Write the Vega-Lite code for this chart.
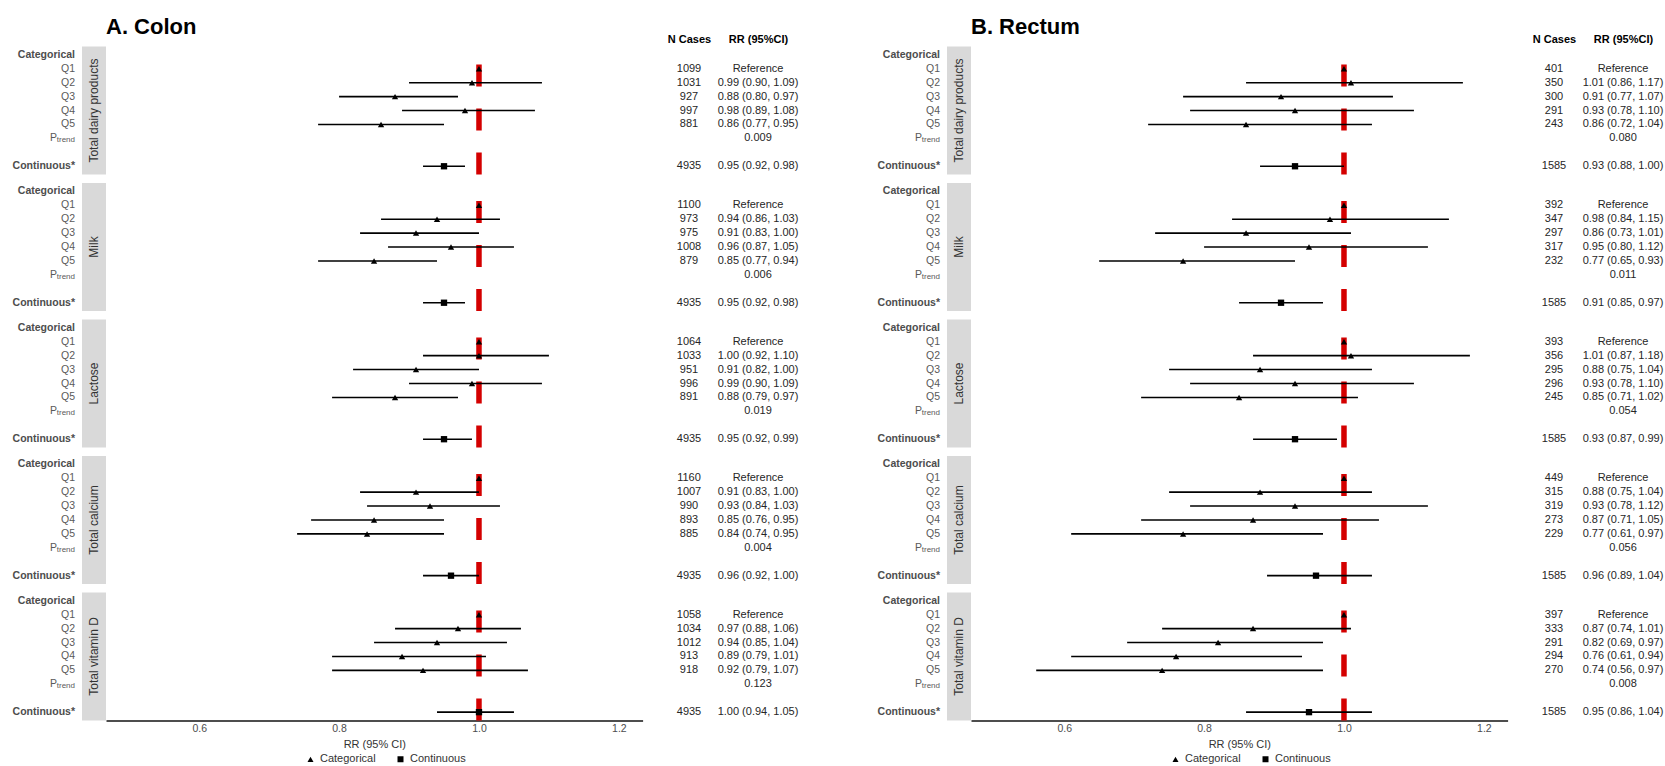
{
  "$schema": "https://vega.github.io/schema/vega-lite/v6.json",
  "padding": {"top": 15.5, "left": 0, "right": 0, "bottom": 0},
  "background": "white",
  "config": {
    "font": "Liberation Sans",
    "view": {"stroke": null},
    "title": {"fontSize": 22, "fontWeight": "bold", "color": "#000000", "anchor": "start", "offset": 4.5}
  },
  "datasets": {
    "rr": [
      {"panel": "Colon", "group": "Total dairy products", "row": "Categorical"},
      {"panel": "Colon", "group": "Total dairy products", "row": "Q1", "n": 1099, "rr": 1.0, "lo": 1.0, "hi": 1.0},
      {"panel": "Colon", "group": "Total dairy products", "row": "Q2", "n": 1031, "rr": 0.99, "lo": 0.90, "hi": 1.09},
      {"panel": "Colon", "group": "Total dairy products", "row": "Q3", "n": 927, "rr": 0.88, "lo": 0.80, "hi": 0.97},
      {"panel": "Colon", "group": "Total dairy products", "row": "Q4", "n": 997, "rr": 0.98, "lo": 0.89, "hi": 1.08},
      {"panel": "Colon", "group": "Total dairy products", "row": "Q5", "n": 881, "rr": 0.86, "lo": 0.77, "hi": 0.95},
      {"panel": "Colon", "group": "Total dairy products", "row": "ptrend", "p": 0.009},
      {"panel": "Colon", "group": "Total dairy products", "row": "Continuous*", "n": 4935, "rr": 0.95, "lo": 0.92, "hi": 0.98},
      {"panel": "Colon", "group": "Milk", "row": "Categorical"},
      {"panel": "Colon", "group": "Milk", "row": "Q1", "n": 1100, "rr": 1.0, "lo": 1.0, "hi": 1.0},
      {"panel": "Colon", "group": "Milk", "row": "Q2", "n": 973, "rr": 0.94, "lo": 0.86, "hi": 1.03},
      {"panel": "Colon", "group": "Milk", "row": "Q3", "n": 975, "rr": 0.91, "lo": 0.83, "hi": 1.00},
      {"panel": "Colon", "group": "Milk", "row": "Q4", "n": 1008, "rr": 0.96, "lo": 0.87, "hi": 1.05},
      {"panel": "Colon", "group": "Milk", "row": "Q5", "n": 879, "rr": 0.85, "lo": 0.77, "hi": 0.94},
      {"panel": "Colon", "group": "Milk", "row": "ptrend", "p": 0.006},
      {"panel": "Colon", "group": "Milk", "row": "Continuous*", "n": 4935, "rr": 0.95, "lo": 0.92, "hi": 0.98},
      {"panel": "Colon", "group": "Lactose", "row": "Categorical"},
      {"panel": "Colon", "group": "Lactose", "row": "Q1", "n": 1064, "rr": 1.0, "lo": 1.0, "hi": 1.0},
      {"panel": "Colon", "group": "Lactose", "row": "Q2", "n": 1033, "rr": 1.00, "lo": 0.92, "hi": 1.10},
      {"panel": "Colon", "group": "Lactose", "row": "Q3", "n": 951, "rr": 0.91, "lo": 0.82, "hi": 1.00},
      {"panel": "Colon", "group": "Lactose", "row": "Q4", "n": 996, "rr": 0.99, "lo": 0.90, "hi": 1.09},
      {"panel": "Colon", "group": "Lactose", "row": "Q5", "n": 891, "rr": 0.88, "lo": 0.79, "hi": 0.97},
      {"panel": "Colon", "group": "Lactose", "row": "ptrend", "p": 0.019},
      {"panel": "Colon", "group": "Lactose", "row": "Continuous*", "n": 4935, "rr": 0.95, "lo": 0.92, "hi": 0.99},
      {"panel": "Colon", "group": "Total calcium", "row": "Categorical"},
      {"panel": "Colon", "group": "Total calcium", "row": "Q1", "n": 1160, "rr": 1.0, "lo": 1.0, "hi": 1.0},
      {"panel": "Colon", "group": "Total calcium", "row": "Q2", "n": 1007, "rr": 0.91, "lo": 0.83, "hi": 1.00},
      {"panel": "Colon", "group": "Total calcium", "row": "Q3", "n": 990, "rr": 0.93, "lo": 0.84, "hi": 1.03},
      {"panel": "Colon", "group": "Total calcium", "row": "Q4", "n": 893, "rr": 0.85, "lo": 0.76, "hi": 0.95},
      {"panel": "Colon", "group": "Total calcium", "row": "Q5", "n": 885, "rr": 0.84, "lo": 0.74, "hi": 0.95},
      {"panel": "Colon", "group": "Total calcium", "row": "ptrend", "p": 0.004},
      {"panel": "Colon", "group": "Total calcium", "row": "Continuous*", "n": 4935, "rr": 0.96, "lo": 0.92, "hi": 1.00},
      {"panel": "Colon", "group": "Total vitamin D", "row": "Categorical"},
      {"panel": "Colon", "group": "Total vitamin D", "row": "Q1", "n": 1058, "rr": 1.0, "lo": 1.0, "hi": 1.0},
      {"panel": "Colon", "group": "Total vitamin D", "row": "Q2", "n": 1034, "rr": 0.97, "lo": 0.88, "hi": 1.06},
      {"panel": "Colon", "group": "Total vitamin D", "row": "Q3", "n": 1012, "rr": 0.94, "lo": 0.85, "hi": 1.04},
      {"panel": "Colon", "group": "Total vitamin D", "row": "Q4", "n": 913, "rr": 0.89, "lo": 0.79, "hi": 1.01},
      {"panel": "Colon", "group": "Total vitamin D", "row": "Q5", "n": 918, "rr": 0.92, "lo": 0.79, "hi": 1.07},
      {"panel": "Colon", "group": "Total vitamin D", "row": "ptrend", "p": 0.123},
      {"panel": "Colon", "group": "Total vitamin D", "row": "Continuous*", "n": 4935, "rr": 1.00, "lo": 0.94, "hi": 1.05},
      {"panel": "Rectum", "group": "Total dairy products", "row": "Categorical"},
      {"panel": "Rectum", "group": "Total dairy products", "row": "Q1", "n": 401, "rr": 1.0, "lo": 1.0, "hi": 1.0},
      {"panel": "Rectum", "group": "Total dairy products", "row": "Q2", "n": 350, "rr": 1.01, "lo": 0.86, "hi": 1.17},
      {"panel": "Rectum", "group": "Total dairy products", "row": "Q3", "n": 300, "rr": 0.91, "lo": 0.77, "hi": 1.07},
      {"panel": "Rectum", "group": "Total dairy products", "row": "Q4", "n": 291, "rr": 0.93, "lo": 0.78, "hi": 1.10},
      {"panel": "Rectum", "group": "Total dairy products", "row": "Q5", "n": 243, "rr": 0.86, "lo": 0.72, "hi": 1.04},
      {"panel": "Rectum", "group": "Total dairy products", "row": "ptrend", "p": 0.080},
      {"panel": "Rectum", "group": "Total dairy products", "row": "Continuous*", "n": 1585, "rr": 0.93, "lo": 0.88, "hi": 1.00},
      {"panel": "Rectum", "group": "Milk", "row": "Categorical"},
      {"panel": "Rectum", "group": "Milk", "row": "Q1", "n": 392, "rr": 1.0, "lo": 1.0, "hi": 1.0},
      {"panel": "Rectum", "group": "Milk", "row": "Q2", "n": 347, "rr": 0.98, "lo": 0.84, "hi": 1.15},
      {"panel": "Rectum", "group": "Milk", "row": "Q3", "n": 297, "rr": 0.86, "lo": 0.73, "hi": 1.01},
      {"panel": "Rectum", "group": "Milk", "row": "Q4", "n": 317, "rr": 0.95, "lo": 0.80, "hi": 1.12},
      {"panel": "Rectum", "group": "Milk", "row": "Q5", "n": 232, "rr": 0.77, "lo": 0.65, "hi": 0.93},
      {"panel": "Rectum", "group": "Milk", "row": "ptrend", "p": 0.011},
      {"panel": "Rectum", "group": "Milk", "row": "Continuous*", "n": 1585, "rr": 0.91, "lo": 0.85, "hi": 0.97},
      {"panel": "Rectum", "group": "Lactose", "row": "Categorical"},
      {"panel": "Rectum", "group": "Lactose", "row": "Q1", "n": 393, "rr": 1.0, "lo": 1.0, "hi": 1.0},
      {"panel": "Rectum", "group": "Lactose", "row": "Q2", "n": 356, "rr": 1.01, "lo": 0.87, "hi": 1.18},
      {"panel": "Rectum", "group": "Lactose", "row": "Q3", "n": 295, "rr": 0.88, "lo": 0.75, "hi": 1.04},
      {"panel": "Rectum", "group": "Lactose", "row": "Q4", "n": 296, "rr": 0.93, "lo": 0.78, "hi": 1.10},
      {"panel": "Rectum", "group": "Lactose", "row": "Q5", "n": 245, "rr": 0.85, "lo": 0.71, "hi": 1.02},
      {"panel": "Rectum", "group": "Lactose", "row": "ptrend", "p": 0.054},
      {"panel": "Rectum", "group": "Lactose", "row": "Continuous*", "n": 1585, "rr": 0.93, "lo": 0.87, "hi": 0.99},
      {"panel": "Rectum", "group": "Total calcium", "row": "Categorical"},
      {"panel": "Rectum", "group": "Total calcium", "row": "Q1", "n": 449, "rr": 1.0, "lo": 1.0, "hi": 1.0},
      {"panel": "Rectum", "group": "Total calcium", "row": "Q2", "n": 315, "rr": 0.88, "lo": 0.75, "hi": 1.04},
      {"panel": "Rectum", "group": "Total calcium", "row": "Q3", "n": 319, "rr": 0.93, "lo": 0.78, "hi": 1.12},
      {"panel": "Rectum", "group": "Total calcium", "row": "Q4", "n": 273, "rr": 0.87, "lo": 0.71, "hi": 1.05},
      {"panel": "Rectum", "group": "Total calcium", "row": "Q5", "n": 229, "rr": 0.77, "lo": 0.61, "hi": 0.97},
      {"panel": "Rectum", "group": "Total calcium", "row": "ptrend", "p": 0.056},
      {"panel": "Rectum", "group": "Total calcium", "row": "Continuous*", "n": 1585, "rr": 0.96, "lo": 0.89, "hi": 1.04},
      {"panel": "Rectum", "group": "Total vitamin D", "row": "Categorical"},
      {"panel": "Rectum", "group": "Total vitamin D", "row": "Q1", "n": 397, "rr": 1.0, "lo": 1.0, "hi": 1.0},
      {"panel": "Rectum", "group": "Total vitamin D", "row": "Q2", "n": 333, "rr": 0.87, "lo": 0.74, "hi": 1.01},
      {"panel": "Rectum", "group": "Total vitamin D", "row": "Q3", "n": 291, "rr": 0.82, "lo": 0.69, "hi": 0.97},
      {"panel": "Rectum", "group": "Total vitamin D", "row": "Q4", "n": 294, "rr": 0.76, "lo": 0.61, "hi": 0.94},
      {"panel": "Rectum", "group": "Total vitamin D", "row": "Q5", "n": 270, "rr": 0.74, "lo": 0.56, "hi": 0.97},
      {"panel": "Rectum", "group": "Total vitamin D", "row": "ptrend", "p": 0.008},
      {"panel": "Rectum", "group": "Total vitamin D", "row": "Continuous*", "n": 1585, "rr": 0.95, "lo": 0.86, "hi": 1.04}
    ]
  },
  "data": {"name": "rr"},
  "transform": [
    {"calculate": "indexof(['Total dairy products', 'Milk', 'Lactose', 'Total calcium', 'Total vitamin D'], datum.group) * 9.8 + indexof(['Categorical', 'Q1', 'Q2', 'Q3', 'Q4', 'Q5', 'ptrend', '', 'Continuous*'], datum.row)", "as": "pos"},
    {"calculate": "datum.pos - 0.6", "as": "top"},
    {"calculate": "datum.pos + 8.6", "as": "bottom"},
    {"calculate": "datum.pos + 4", "as": "mid"},
    {"calculate": "datum.row == 'Continuous*' ? 'Continuous' : 'Categorical'", "as": "type"},
    {"calculate": "datum.row == 'Q1' ? 'Reference' : datum.row == 'ptrend' ? format(datum.p, '.3f') : isValid(datum.rr) ? format(datum.rr, '.2f') + ' (' + format(datum.lo, '.2f') + ', ' + format(datum.hi, '.2f') + ')' : ''", "as": "rrtext"}
  ],
  "resolve": {"scale": {"shape": "independent"}, "legend": {"shape": "independent"}},
  "bounds": "flush",
  "spacing": 0,
  "hconcat": [
    {
      "width": 82,
      "height": 674,
      "transform": [{"filter": "datum.panel == 'Colon'"}],
      "layer": [
        {
          "transform": [{"filter": "datum.row == 'Categorical' || datum.row == 'Continuous*'"}],
          "mark": {"type": "text", "align": "right", "baseline": "middle", "dx": -7, "fontSize": 10.5, "fontWeight": "bold", "color": "#4d4d4d"},
          "encoding": {
            "x": {"datum": 1, "type": "quantitative", "scale": {"domain": [0, 1]}, "axis": null},
            "y": {"field": "pos", "type": "quantitative", "scale": {"domain": [-0.6, 47.8], "reverse": true, "nice": false, "zero": false}, "axis": null},
            "text": {"field": "row"}
          }
        },
        {
          "transform": [{"filter": "datum.row != 'ptrend' && datum.row != 'Categorical' && datum.row != 'Continuous*'"}],
          "mark": {"type": "text", "align": "right", "baseline": "middle", "dx": -7, "fontSize": 10.5, "color": "#5a5a5a"},
          "encoding": {
            "x": {"datum": 1, "type": "quantitative"},
            "y": {"field": "pos", "type": "quantitative"},
            "text": {"field": "row"}
          }
        },
        {
          "transform": [{"filter": "datum.row == 'ptrend'"}],
          "mark": {"type": "text", "align": "right", "baseline": "middle", "dx": -25, "fontSize": 10.5, "color": "#5a5a5a", "text": "P"},
          "encoding": {"x": {"datum": 1, "type": "quantitative"}, "y": {"field": "pos", "type": "quantitative"}}
        },
        {
          "transform": [{"filter": "datum.row == 'ptrend'"}],
          "mark": {"type": "text", "align": "right", "baseline": "middle", "dx": -7, "dy": 2, "fontSize": 8, "color": "#5a5a5a", "text": "trend"},
          "encoding": {"x": {"datum": 1, "type": "quantitative"}, "y": {"field": "pos", "type": "quantitative"}}
        }
      ]
    },
    {
      "width": 24,
      "height": 674,
      "transform": [{"filter": "datum.panel == 'Colon' && datum.row == 'Categorical'"}],
      "layer": [
        {
          "mark": {"type": "rect", "color": "#d9d9d9"},
          "encoding": {
            "x": {"datum": 0, "type": "quantitative", "scale": {"domain": [0, 1]}, "axis": null},
            "x2": {"datum": 1},
            "y": {"field": "top", "type": "quantitative", "scale": {"domain": [-0.6, 47.8], "reverse": true, "nice": false, "zero": false}, "axis": null},
            "y2": {"field": "bottom"}
          }
        },
        {
          "mark": {"type": "text", "angle": 270, "align": "center", "baseline": "middle", "fontSize": 12, "color": "#333333"},
          "encoding": {
            "x": {"datum": 0.5, "type": "quantitative"},
            "y": {"field": "mid", "type": "quantitative"},
            "text": {"field": "group"}
          }
        }
      ]
    },
    {
      "width": 536.6,
      "height": 674,
      "title": {"text": "A. Colon"},
      "transform": [{"filter": "datum.panel == 'Colon'"}],
      "layer": [
        {
          "transform": [{"filter": "datum.row == 'Categorical'"}],
          "mark": {"type": "rule", "color": "#d40000", "strokeWidth": 5.5, "strokeDash": [22, 22]},
          "encoding": {
            "x": {"datum": 1, "type": "quantitative",
              "scale": {"domain": [0.4668, 1.2339], "nice": false, "zero": false},
              "axis": {"orient": "bottom", "title": "RR (95% CI)", "values": [0.6, 0.8, 1.0, 1.2], "format": ".1f", "grid": false, "ticks": false,
                "domainColor": "#4d4d4d", "domainWidth": 2, "labelColor": "#4d4d4d", "labelFontSize": 10.5, "labelPadding": 3,
                "titleColor": "#333333", "titleFontWeight": "normal", "titleFontSize": 11, "titlePadding": 4}},
            "y": {"field": "bottom", "type": "quantitative", "scale": {"domain": [-0.6, 47.8], "reverse": true, "nice": false, "zero": false}, "axis": null},
            "y2": {"field": "top"}
          }
        },
        {
          "transform": [{"filter": "isValid(datum.lo)"}],
          "mark": {"type": "rule", "color": "#000000", "strokeWidth": 1.6},
          "encoding": {
            "x": {"field": "lo", "type": "quantitative"},
            "x2": {"field": "hi"},
            "y": {"field": "pos", "type": "quantitative"}
          }
        },
        {
          "transform": [{"filter": "isValid(datum.rr)"}],
          "mark": {"type": "point", "filled": true, "color": "#000000", "opacity": 1, "size": 40},
          "encoding": {
            "x": {"field": "rr", "type": "quantitative"},
            "y": {"field": "pos", "type": "quantitative"},
            "shape": {"field": "type", "type": "nominal",
              "scale": {"domain": ["Categorical", "Continuous"], "range": ["triangle-up", "square"]},
              "legend": {"orient": "none", "legendX": 199, "legendY": 707, "direction": "horizontal", "title": null, "labelFontSize": 11, "labelColor": "#333333",
                "symbolFillColor": "#000000", "symbolStrokeColor": "#000000", "symbolSize": 36, "columnPadding": 18}}
          }
        }
      ]
    },
    {
      "width": 221.4,
      "height": 674,
      "transform": [{"filter": "datum.panel == 'Colon'"}],
      "layer": [
        {
          "transform": [{"filter": "isValid(datum.n)"}],
          "mark": {"type": "text", "align": "center", "baseline": "middle", "fontSize": 11, "color": "#262626"},
          "encoding": {
            "x": {"datum": "N Cases", "type": "nominal",
              "scale": {"type": "point", "domain": ["N Cases", "RR (95%CI)"], "range": [46, 115], "padding": 0},
              "axis": {"orient": "top", "title": null, "domain": false, "ticks": false, "labelAngle": 0, "labelFontWeight": "bold", "labelFontSize": 11, "labelColor": "#000000", "labelPadding": 2}},
            "y": {"field": "pos", "type": "quantitative", "scale": {"domain": [-0.6, 47.8], "reverse": true, "nice": false, "zero": false}, "axis": null},
            "text": {"field": "n", "type": "quantitative", "format": "d"}
          }
        },
        {
          "transform": [{"filter": "datum.rrtext != ''"}],
          "mark": {"type": "text", "align": "center", "baseline": "middle", "fontSize": 11, "color": "#262626"},
          "encoding": {
            "x": {"datum": "RR (95%CI)", "type": "nominal"},
            "y": {"field": "pos", "type": "quantitative"},
            "text": {"field": "rrtext"}
          }
        }
      ]
    },
    {
      "width": 82,
      "height": 674,
      "transform": [{"filter": "datum.panel == 'Rectum'"}],
      "layer": [
        {
          "transform": [{"filter": "datum.row == 'Categorical' || datum.row == 'Continuous*'"}],
          "mark": {"type": "text", "align": "right", "baseline": "middle", "dx": -7, "fontSize": 10.5, "fontWeight": "bold", "color": "#4d4d4d"},
          "encoding": {
            "x": {"datum": 1, "type": "quantitative", "scale": {"domain": [0, 1]}, "axis": null},
            "y": {"field": "pos", "type": "quantitative", "scale": {"domain": [-0.6, 47.8], "reverse": true, "nice": false, "zero": false}, "axis": null},
            "text": {"field": "row"}
          }
        },
        {
          "transform": [{"filter": "datum.row != 'ptrend' && datum.row != 'Categorical' && datum.row != 'Continuous*'"}],
          "mark": {"type": "text", "align": "right", "baseline": "middle", "dx": -7, "fontSize": 10.5, "color": "#5a5a5a"},
          "encoding": {
            "x": {"datum": 1, "type": "quantitative"},
            "y": {"field": "pos", "type": "quantitative"},
            "text": {"field": "row"}
          }
        },
        {
          "transform": [{"filter": "datum.row == 'ptrend'"}],
          "mark": {"type": "text", "align": "right", "baseline": "middle", "dx": -25, "fontSize": 10.5, "color": "#5a5a5a", "text": "P"},
          "encoding": {"x": {"datum": 1, "type": "quantitative"}, "y": {"field": "pos", "type": "quantitative"}}
        },
        {
          "transform": [{"filter": "datum.row == 'ptrend'"}],
          "mark": {"type": "text", "align": "right", "baseline": "middle", "dx": -7, "dy": 2, "fontSize": 8, "color": "#5a5a5a", "text": "trend"},
          "encoding": {"x": {"datum": 1, "type": "quantitative"}, "y": {"field": "pos", "type": "quantitative"}}
        }
      ]
    },
    {
      "width": 24,
      "height": 674,
      "transform": [{"filter": "datum.panel == 'Rectum' && datum.row == 'Categorical'"}],
      "layer": [
        {
          "mark": {"type": "rect", "color": "#d9d9d9"},
          "encoding": {
            "x": {"datum": 0, "type": "quantitative", "scale": {"domain": [0, 1]}, "axis": null},
            "x2": {"datum": 1},
            "y": {"field": "top", "type": "quantitative", "scale": {"domain": [-0.6, 47.8], "reverse": true, "nice": false, "zero": false}, "axis": null},
            "y2": {"field": "bottom"}
          }
        },
        {
          "mark": {"type": "text", "angle": 270, "align": "center", "baseline": "middle", "fontSize": 12, "color": "#333333"},
          "encoding": {
            "x": {"datum": 0.5, "type": "quantitative"},
            "y": {"field": "mid", "type": "quantitative"},
            "text": {"field": "group"}
          }
        }
      ]
    },
    {
      "width": 536.6,
      "height": 674,
      "title": {"text": "B. Rectum"},
      "transform": [{"filter": "datum.panel == 'Rectum'"}],
      "layer": [
        {
          "transform": [{"filter": "datum.row == 'Categorical'"}],
          "mark": {"type": "rule", "color": "#d40000", "strokeWidth": 5.5, "strokeDash": [22, 22]},
          "encoding": {
            "x": {"datum": 1, "type": "quantitative",
              "scale": {"domain": [0.4668, 1.2339], "nice": false, "zero": false},
              "axis": {"orient": "bottom", "title": "RR (95% CI)", "values": [0.6, 0.8, 1.0, 1.2], "format": ".1f", "grid": false, "ticks": false,
                "domainColor": "#4d4d4d", "domainWidth": 2, "labelColor": "#4d4d4d", "labelFontSize": 10.5, "labelPadding": 3,
                "titleColor": "#333333", "titleFontWeight": "normal", "titleFontSize": 11, "titlePadding": 4}},
            "y": {"field": "bottom", "type": "quantitative", "scale": {"domain": [-0.6, 47.8], "reverse": true, "nice": false, "zero": false}, "axis": null},
            "y2": {"field": "top"}
          }
        },
        {
          "transform": [{"filter": "isValid(datum.lo)"}],
          "mark": {"type": "rule", "color": "#000000", "strokeWidth": 1.6},
          "encoding": {
            "x": {"field": "lo", "type": "quantitative"},
            "x2": {"field": "hi"},
            "y": {"field": "pos", "type": "quantitative"}
          }
        },
        {
          "transform": [{"filter": "isValid(datum.rr)"}],
          "mark": {"type": "point", "filled": true, "color": "#000000", "opacity": 1, "size": 40},
          "encoding": {
            "x": {"field": "rr", "type": "quantitative"},
            "y": {"field": "pos", "type": "quantitative"},
            "shape": {"field": "type", "type": "nominal",
              "scale": {"domain": ["Categorical", "Continuous"], "range": ["triangle-up", "square"]},
              "legend": {"orient": "none", "legendX": 199, "legendY": 707, "direction": "horizontal", "title": null, "labelFontSize": 11, "labelColor": "#333333",
                "symbolFillColor": "#000000", "symbolStrokeColor": "#000000", "symbolSize": 36, "columnPadding": 18}}
          }
        }
      ]
    },
    {
      "width": 150,
      "height": 674,
      "transform": [{"filter": "datum.panel == 'Rectum'"}],
      "layer": [
        {
          "transform": [{"filter": "isValid(datum.n)"}],
          "mark": {"type": "text", "align": "center", "baseline": "middle", "fontSize": 11, "color": "#262626"},
          "encoding": {
            "x": {"datum": "N Cases", "type": "nominal",
              "scale": {"type": "point", "domain": ["N Cases", "RR (95%CI)"], "range": [46, 115], "padding": 0},
              "axis": {"orient": "top", "title": null, "domain": false, "ticks": false, "labelAngle": 0, "labelFontWeight": "bold", "labelFontSize": 11, "labelColor": "#000000", "labelPadding": 2}},
            "y": {"field": "pos", "type": "quantitative", "scale": {"domain": [-0.6, 47.8], "reverse": true, "nice": false, "zero": false}, "axis": null},
            "text": {"field": "n", "type": "quantitative", "format": "d"}
          }
        },
        {
          "transform": [{"filter": "datum.rrtext != ''"}],
          "mark": {"type": "text", "align": "center", "baseline": "middle", "fontSize": 11, "color": "#262626"},
          "encoding": {
            "x": {"datum": "RR (95%CI)", "type": "nominal"},
            "y": {"field": "pos", "type": "quantitative"},
            "text": {"field": "rrtext"}
          }
        }
      ]
    }
  ]
}
